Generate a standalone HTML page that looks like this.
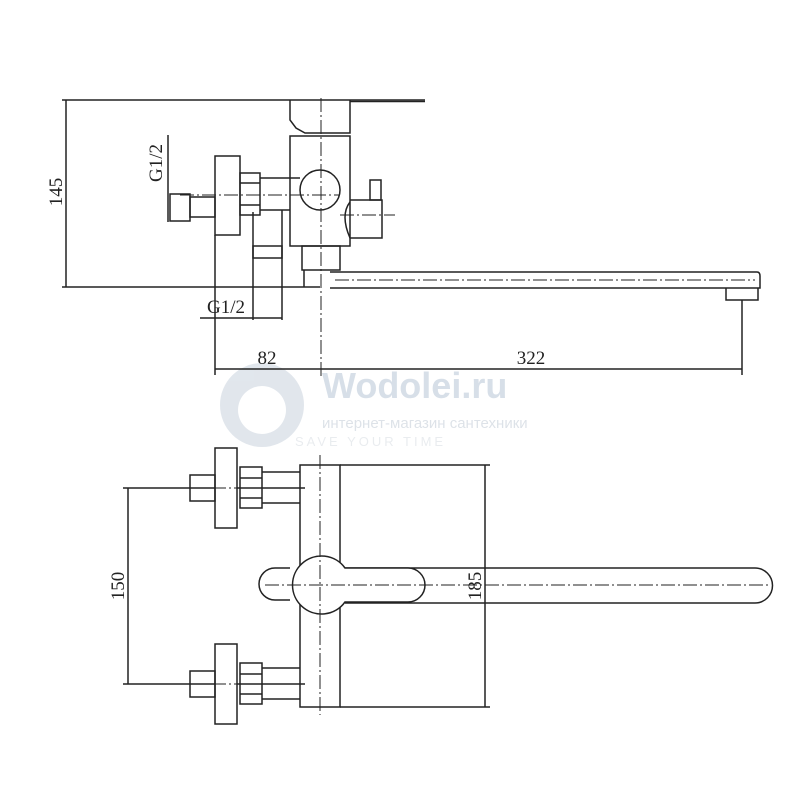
<!DOCTYPE html>
<html><head><meta charset="utf-8"><style>html,body{margin:0;padding:0;background:#fff}svg{display:block}</style></head>
<body>
<svg width="800" height="800" viewBox="0 0 800 800" xmlns="http://www.w3.org/2000/svg" font-family="Liberation Serif, serif">
<rect width="800" height="800" fill="#fff"/>
<g opacity="0.55">
<circle cx="262" cy="405" r="42" fill="#c9d3de"/>
<circle cx="262" cy="410" r="24" fill="#fff"/>
<text x="322" y="398" font-family="Liberation Sans, sans-serif" font-weight="bold" font-size="36" fill="#b8c6d6">Wodolei.ru</text>
<text x="322" y="428" font-family="Liberation Sans, sans-serif" font-size="15" fill="#c3ccd6">интернет-магазин сантехники</text>
<text x="295" y="446" font-family="Liberation Sans, sans-serif" font-size="13" fill="#d8dde3" letter-spacing="3">SAVE YOUR TIME</text>
</g>
<g stroke="#222" stroke-width="1.5" fill="none">
<line x1="62" y1="100" x2="425" y2="100"/>
<line x1="350" y1="101.5" x2="425" y2="101.5"/>
<line x1="62" y1="287" x2="320" y2="287"/>
<line x1="66" y1="100" x2="66" y2="287"/>
<path d="M290 100 V120 L296 128 L305 133 H350 V100"/>
<rect x="290" y="136" width="60" height="110" fill="#fff"/>
<circle cx="320" cy="190" r="20" fill="#fff"/>
<rect x="215" y="156" width="25" height="79" fill="#fff"/>
<rect x="240" y="173" width="20" height="42"/>
<line x1="240" y1="183" x2="260" y2="183"/><line x1="240" y1="205" x2="260" y2="205"/>
<path d="M260 178 H300 M260 210 H290"/>
<rect x="170" y="194" width="20" height="27"/>
<rect x="190" y="197" width="25" height="20"/>
<line x1="168" y1="135" x2="168" y2="222"/>
<line x1="253" y1="212" x2="253" y2="320"/>
<line x1="282" y1="210" x2="282" y2="320"/>
<rect x="253" y="246" width="29" height="12"/>
<line x1="200" y1="318" x2="282" y2="318"/>
<path d="M350 202 Q340 215 350 238 M350 200 H382 V238 H350"/>
<rect x="370" y="180" width="11" height="20"/>
<rect x="302" y="246" width="38" height="24"/>
<path d="M304 270 V287 M330 272 H757 Q760 272 760 276 V288 H330"/>
<path d="M726 288 V300 H758 V288"/>
<line x1="215" y1="235" x2="215" y2="375"/>
<line x1="742" y1="300" x2="742" y2="375"/>
<line x1="215" y1="369" x2="742" y2="369"/>
<rect x="300" y="465" width="40" height="242" fill="#fff"/>
<line x1="340" y1="465" x2="490" y2="465"/>
<line x1="340" y1="707" x2="490" y2="707"/>
<line x1="485" y1="465" x2="485" y2="707"/>
<line x1="123" y1="488" x2="305" y2="488"/>
<line x1="123" y1="684" x2="305" y2="684"/>
<line x1="128" y1="488" x2="128" y2="684"/>
<g id="inl">
<rect x="215" y="448" width="22" height="80" fill="#fff"/>
<rect x="240" y="467" width="22" height="41"/>
<line x1="240" y1="478" x2="262" y2="478"/><line x1="240" y1="498" x2="262" y2="498"/>
<path d="M262 472 H300 M262 503 H300"/>
<rect x="190" y="475" width="25" height="26"/>
</g>
<use href="#inl" y="196"/>
<path d="M345 568 H755 A17.5 17.5 0 0 1 755 603 H345"/>
<path d="M290 568 H275 A16 16 0 0 0 275 600 H290"/>
<path d="M345 568 A29 29 0 1 0 345 602 H408 A17 17 0 0 0 408 568 Z" fill="#fff"/>
</g>
<g stroke="#222" stroke-width="1" stroke-dasharray="14 3 2 3" fill="none">
<line x1="321" y1="98" x2="321" y2="378"/>
<line x1="180" y1="195" x2="340" y2="195"/>
<line x1="335" y1="280" x2="755" y2="280"/>
<line x1="340" y1="215" x2="395" y2="215"/>
<line x1="320" y1="455" x2="320" y2="715"/>
<line x1="190" y1="488" x2="305" y2="488"/>
<line x1="190" y1="684" x2="305" y2="684"/>
<line x1="265" y1="585" x2="770" y2="585"/>
</g>
<g fill="#222" font-size="19">
<text transform="translate(62 192) rotate(-90)" text-anchor="middle">145</text>
<text transform="translate(162 163) rotate(-90)" text-anchor="middle">G1/2</text>
<text x="226" y="313" text-anchor="middle">G1/2</text>
<text x="267" y="364" text-anchor="middle">82</text>
<text x="531" y="364" text-anchor="middle">322</text>
<text transform="translate(124 586) rotate(-90)" text-anchor="middle">150</text>
<text transform="translate(481 586) rotate(-90)" text-anchor="middle">185</text>
</g>
</svg>
</body></html>
